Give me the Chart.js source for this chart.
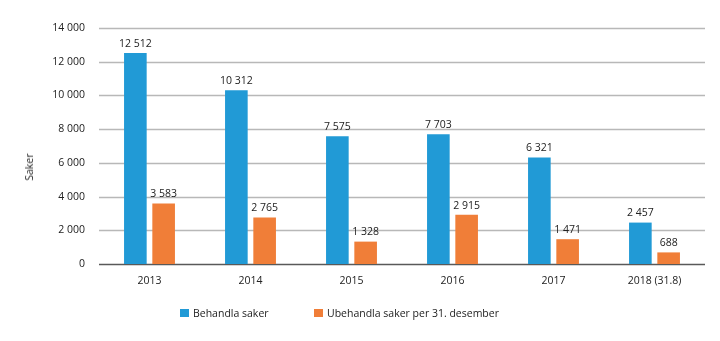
<!DOCTYPE html>
<html><head><meta charset="utf-8">
<script src="https://cdn.jsdelivr.net/npm/chart.js@4"></script>
<style>
html,body{margin:0;padding:0;background:#fff;}
#wrap{position:relative;width:720px;height:341px;}
#legend{position:absolute;top:305px;left:0;width:720px;font-family:"Open Sans",sans-serif;font-size:10.5px;color:#222;}
.item{position:absolute;top:0;line-height:16px;white-space:nowrap;}
.sw{display:inline-block;width:9px;height:8px;margin-right:4px;vertical-align:0px;}
#ytitle{position:absolute;left:29px;top:167px;transform:translate(-50%,-50%) rotate(-90deg);font-family:"Open Sans",sans-serif;font-size:10.5px;color:#222;white-space:nowrap;}
</style></head>
<body><div id="wrap"><canvas id="c" width="720" height="341"></canvas>
<div id="ytitle"></div>
<div id="legend"></div></div>
<script>
const categories = ["2013","2014","2015","2016","2017","2018 (31.8)"];
const behandla = [12512,10312,7575,7703,6321,2457];
const ubehandla = [3583,2765,1328,2915,1471,688];
const seriesNames = ["Behandla saker","Ubehandla saker per 31. desember"];
const colors = ["#219ad6","#f07e38"];
const yTicks = [0,2000,4000,6000,8000,10000,12000,14000];
const yTitle = "Saker";

const fmt = v => String(v).replace(/\B(?=(\d{3})+(?!\d))/g, "\u00a0");
const FONT = '"Open Sans", sans-serif';
const FS = 10.5;

const gridLines = {
  id:'gridLines',
  beforeDatasetsDraw(chart){
    const ctx = chart.ctx, y = chart.scales.y, a = chart.chartArea;
    ctx.save();
    yTicks.forEach(v=>{
      const py = Math.round(y.getPixelForValue(v)) + 0.5;
      ctx.beginPath();
      ctx.strokeStyle = v===0 ? '#595959' : '#b8b8b8';
      ctx.lineWidth = 1.5;
      ctx.moveTo(a.left, py); ctx.lineTo(a.right, py);
      ctx.stroke();
    });
    ctx.restore();
  }
};

const valueLabels = {
  id:'valueLabels',
  afterDatasetsDraw(chart){
    const ctx = chart.ctx;
    ctx.save();
    ctx.font = FS + 'px ' + FONT;
    ctx.fillStyle = '#222';
    ctx.textAlign = 'center';
    ctx.textBaseline = 'bottom';
    chart.data.datasets.forEach((ds,i)=>{
      chart.getDatasetMeta(i).data.forEach((bar,j)=>{
        ctx.fillText(fmt(ds.data[j]), bar.x, bar.y - 4);
      });
    });
    ctx.restore();
  }
};

new Chart(document.getElementById('c'), {
  type:'bar',
  data:{labels:categories, datasets:[
    {label:seriesNames[0], data:behandla, backgroundColor:colors[0], barPercentage:0.8, categoryPercentage:0.56},
    {label:seriesNames[1], data:ubehandla, backgroundColor:colors[1], barPercentage:0.8, categoryPercentage:0.56}
  ]},
  options:{
    responsive:false, animation:false,
    layout:{padding:{top:28,right:15,bottom:45,left:0}},
    plugins:{legend:{display:false}, tooltip:{enabled:false}},
    scales:{
      x:{
        grid:{display:false, drawTicks:false},
        border:{display:false},
        ticks:{color:'#222', font:{family:FONT,size:FS}, padding:11},
        afterFit(s){ s.height = 32; }
      },
      y:{
        min:0, max:14000,
        afterBuildTicks(s){ s.ticks = yTicks.map(v=>({value:v})); },
        ticks:{color:'#222', font:{family:FONT,size:FS}, padding:14, callback:v=>fmt(v)},
        grid:{display:false, drawTicks:false},
        border:{display:false},
        afterFit(s){ s.width = 99; }
      }
    }
  },
  plugins:[gridLines, valueLabels]
});

document.getElementById('ytitle').textContent = yTitle;
const leg = document.getElementById('legend');
const lefts = [180, 314];
seriesNames.forEach((n,i)=>{
  const d = document.createElement('div');
  d.className='item'; d.style.left = lefts[i]+'px';
  d.innerHTML = '<span class="sw" style="background:'+colors[i]+'"></span>' + n;
  leg.appendChild(d);
});
</script></body></html>
